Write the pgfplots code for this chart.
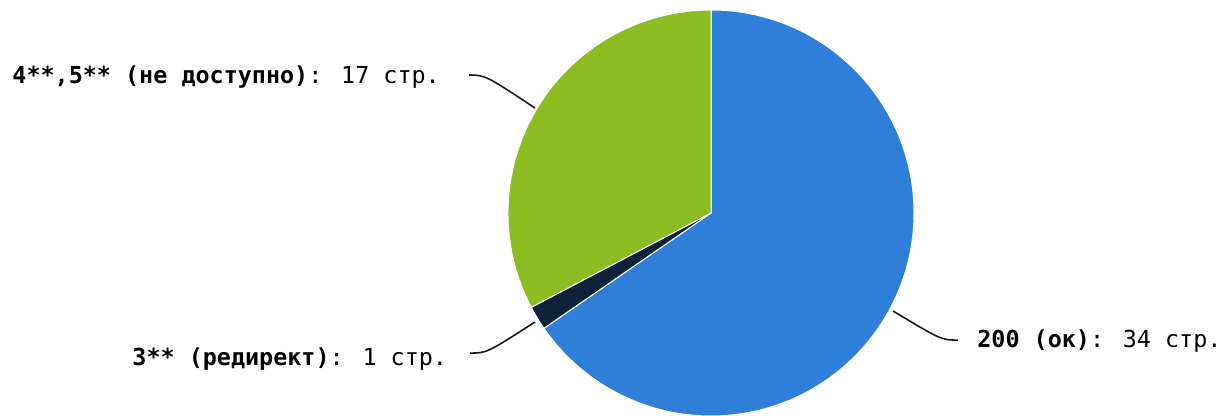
\documentclass[border=0pt]{standalone}
\usepackage{fontspec}
\setmainfont{DejaVu Sans Mono}
\usepackage{pgfplots}
\usepackage{pgfplotstable}
\pgfplotsset{compat=1.18}

\definecolor{hcblue}{HTML}{2F7ED8}
\definecolor{hcnavy}{HTML}{0D233A}
\definecolor{hcgreen}{HTML}{8BBC21}

% pages per status group, clockwise from 12 o'clock
\pgfplotstableread{
group value
200 34
3xx 1
45x 17
}\piedata

\begin{document}
\begin{tikzpicture}
  \useasboundingbox (0,0) rectangle (613pt,208pt);
  \pgfplotstablegetelem{0}{value}\of\piedata \pgfmathsetmacro\va{\pgfplotsretval}
  \pgfplotstablegetelem{1}{value}\of\piedata \pgfmathsetmacro\vb{\pgfplotsretval}
  \pgfplotstablegetelem{2}{value}\of\piedata \pgfmathsetmacro\vc{\pgfplotsretval}
  \pgfmathsetmacro\tot{\va+\vb+\vc}
  \pgfmathsetmacro\aA{90}
  \pgfmathsetmacro\aB{\aA-360*\va/\tot}
  \pgfmathsetmacro\aC{\aB-360*\vb/\tot}
  \pgfmathsetmacro\aD{\aC-360*\vc/\tot}
  \def\R{101.5pt}
  \tikzset{lbl/.style={anchor=base west, inner sep=0pt,
      font=\fontsize{11.7}{14}\selectfont}}
  \begin{axis}[
      at={(355.5pt,101.5pt)}, anchor=center,
      scale only axis, width=203pt, height=203pt,
      xmin=-1, xmax=1, ymin=-1, ymax=1,
      hide axis, clip=false
    ]
    \filldraw[fill=hcblue, draw=white, line width=0.5pt]
      (axis cs:0,0) -- (axis cs:{cos(\aA)},{sin(\aA)})
      arc[start angle=\aA, end angle=\aB, radius=\R] -- cycle;
    \filldraw[fill=hcnavy, draw=white, line width=0.5pt]
      (axis cs:0,0) -- (axis cs:{cos(\aB)},{sin(\aB)})
      arc[start angle=\aB, end angle=\aC, radius=\R] -- cycle;
    \filldraw[fill=hcgreen, draw=white, line width=0.5pt]
      (axis cs:0,0) -- (axis cs:{cos(\aC)},{sin(\aC)})
      arc[start angle=\aC, end angle=\aD, radius=\R] -- cycle;

    % leader lines
    \draw[black!90, line width=0.8pt] (axis cs:-1.192,0.680)
      .. controls (axis cs:-1.11,0.678) .. (axis cs:-0.867,0.517);
    \draw[black!90, line width=0.8pt] (axis cs:-1.187,-0.690)
      .. controls (axis cs:-1.105,-0.690) .. (axis cs:-0.867,-0.537);
    \draw[black!90, line width=0.8pt] (axis cs:1.217,-0.626)
      .. controls (axis cs:1.135,-0.626) .. (axis cs:0.897,-0.483);

    % labels
    \node[lbl] at (axis cs:-3.443,0.638)
      {\textbf{4**,5** (не доступно)}: 17 стр.};
    \node[lbl] at (axis cs:-2.852,-0.749)
      {\textbf{3** (редирект)}: 1 стр.};
    \node[lbl] at (axis cs:1.310,-0.665)
      {\textbf{200 (ок)}: 34 стр.};
  \end{axis}
\end{tikzpicture}
\end{document}
